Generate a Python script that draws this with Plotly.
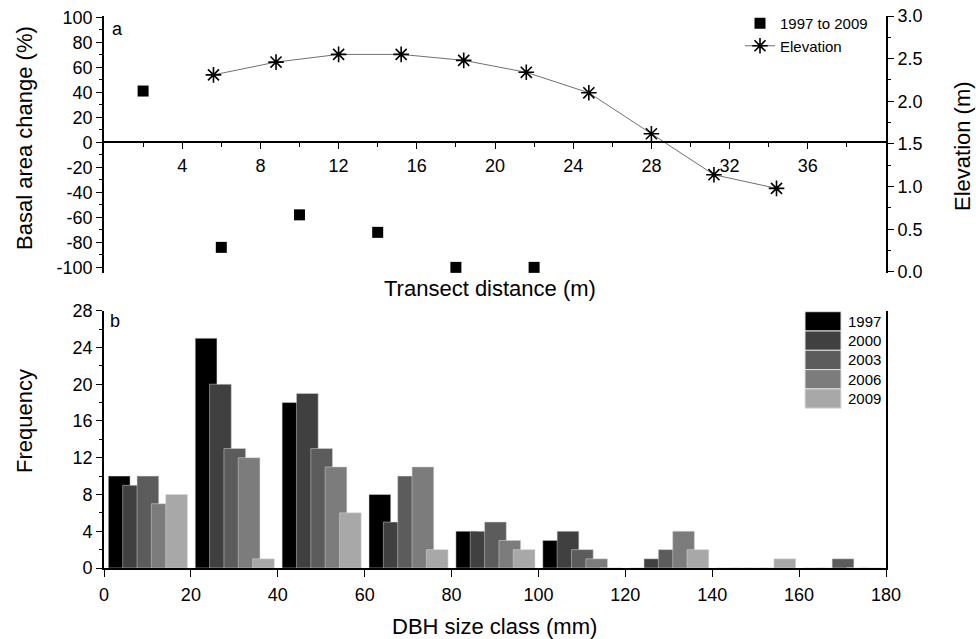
import plotly.graph_objects as go

# ---------------- data ----------------
# Panel a
square_x = [2, 6, 10, 14, 18, 22]
square_y = [41, -84, -58, -72, -100, -100]
square_name = "1997 to 2009"

elev_x = [5.6, 8.8, 12.0, 15.2, 18.4, 21.6, 24.8, 28.0, 31.2, 34.4]
elev_y = [2.31, 2.46, 2.55, 2.55, 2.48, 2.34, 2.10, 1.62, 1.14, 0.98]
elev_name = "Elevation"

basal_ticks = list(range(-100, 101, 20))
basal_ticktext = [str(v).replace("\u2212", "-") for v in basal_ticks]

# Panel b
class_start = [0, 20, 40, 60, 80, 100, 120, 140, 160]
years = ["1997", "2000", "2003", "2006", "2009"]
freq_1997 = [10, 25, 18, 8, 4, 3, 0, 0, 0]
freq_2000 = [9, 20, 19, 5, 4, 4, 1, 0, 0]
freq_2003 = [10, 13, 13, 10, 5, 2, 2, 0, 1]
freq_2006 = [7, 12, 11, 11, 3, 1, 4, 0, 0]
freq_2009 = [8, 1, 6, 2, 2, 0, 2, 1, 0]
freqs = [freq_1997, freq_2000, freq_2003, freq_2006, freq_2009]
bar_colors = ["#000000", "#404040", "#5c5c5c", "#7c7c7c", "#a8a8a8"]

# ---------------- layout geometry ----------------
W, H = 976, 639
ML, MR, MT, MB = 104, 90, 16, 71
PW, PH = W - ML - MR, H - MT - MB


def px(x):
    return (x - ML) / PW


def py(y):
    return (H - MB - y) / PH


top_dom = [py(273), 1.0]
bot_dom = [0.0, py(310.7)]
yl_range = [-104.5, 101]
yr_range = [-0.012, 3.0]
xaxis_pos = top_dom[0] + (0 - yl_range[0]) / (yl_range[1] - yl_range[0]) * (top_dom[1] - top_dom[0])

FONT = "Liberation Sans, Arial, sans-serif"

fig = go.Figure()

fig.add_trace(go.Scatter(
    x=square_x, y=square_y, mode="markers", name=square_name,
    marker=dict(symbol="square", size=11, color="black"),
    xaxis="x", yaxis="y"))

fig.add_trace(go.Scatter(
    x=elev_x, y=elev_y, mode="lines+markers", name=elev_name,
    line=dict(color="#707070", width=1),
    marker=dict(symbol="asterisk-open", size=13, color="black",
                line=dict(color="black", width=1.6)),
    xaxis="x", yaxis="y2"))

for k, (yr, vals, col) in enumerate(zip(years, freqs, bar_colors)):
    fig.add_trace(go.Bar(
        x=class_start, y=vals, name=yr, width=5, offset=1 + 3.3 * k,
        marker=dict(color=col, line=dict(color="#d8d8d8", width=0.5)),
        showlegend=False, xaxis="x2", yaxis="y3"))

axis_common = dict(showline=True, linecolor="black", linewidth=1.6,
                   ticks="outside", tickcolor="black", tickwidth=1.4,
                   showgrid=False, zeroline=False,
                   tickfont=dict(family=FONT, size=18, color="black"))

fig.update_layout(
    width=W, height=H,
    margin=dict(l=ML, r=MR, t=MT, b=MB, autoexpand=False),
    paper_bgcolor="white", plot_bgcolor="white",
    barmode="overlay",
    font=dict(family=FONT, color="black"),
    xaxis=dict(domain=[0, 1], range=[0, 40], anchor="free", position=xaxis_pos,
               tickvals=list(range(4, 37, 4)), ticklen=6, ticklabelstandoff=1,
               minor=dict(tickvals=list(range(2, 39, 4)), ticklen=4, ticks="outside",
                          tickcolor="black", tickwidth=1.4),
               **axis_common),
    yaxis=dict(domain=top_dom, range=yl_range, anchor="x",
               tickvals=basal_ticks, ticktext=basal_ticktext, ticklen=6,
               minor=dict(tickvals=list(range(-90, 100, 20)), ticklen=3, ticks="outside",
                          tickcolor="black", tickwidth=1.4),
               **axis_common),
    yaxis2=dict(domain=top_dom, range=yr_range, overlaying="y", side="right", anchor="x",
                tickvals=[0, 0.5, 1.0, 1.5, 2.0, 2.5, 3.0], tickformat=".1f", ticklen=6,
                minor=dict(tickvals=[0.25, 0.75, 1.25, 1.75, 2.25, 2.75], ticklen=3,
                           ticks="outside", tickcolor="black", tickwidth=1.4),
                **axis_common),
    xaxis2=dict(domain=[0, 1], range=[0, 180], anchor="y3", dtick=20, ticklen=7,
                ticklabelstandoff=3, **axis_common),
    yaxis3=dict(domain=bot_dom, range=[0, 28], anchor="x2", dtick=4, ticklen=6,
                mirror=True,
                minor=dict(dtick=2, ticklen=3, ticks="outside",
                           tickcolor="black", tickwidth=1.4),
                **axis_common),
    legend=dict(x=px(740), y=py(7), xanchor="left", yanchor="top",
                bgcolor="rgba(0,0,0,0)", borderwidth=0, tracegroupgap=0,
                font=dict(family=FONT, size=15, color="black")),
)

annotations = [
    dict(text="a", x=px(110), y=py(29), xanchor="left", yanchor="middle", font_size=18),
    dict(text="b", x=px(108), y=py(321), xanchor="left", yanchor="middle", font_size=18),
    dict(text="Basal area change (%)", x=px(24), y=py(138), textangle=-90, font_size=22),
    dict(text="Elevation (m)", x=px(962), y=py(146), textangle=-90, font_size=22),
    dict(text="Transect distance (m)", x=px(490), y=py(288), font_size=22),
    dict(text="Frequency", x=px(24), y=py(421), textangle=-90, font_size=22),
    dict(text="DBH size class (mm)", x=px(494), y=py(626), font_size=22),
]

# custom legend for panel b
row_h = 19.3
for i, (yr, col) in enumerate(zip(years, bar_colors)):
    y0 = 311.7 + i * row_h
    fig.add_shape(type="rect", xref="paper", yref="paper",
                  x0=px(805), x1=px(841), y0=py(y0 + row_h), y1=py(y0),
                  fillcolor=col, line=dict(color="#e0e0e0", width=1))
    annotations.append(dict(text=yr, x=px(846), y=py(y0 + row_h / 2),
                            xanchor="left", font_size=15))

for a in annotations:
    a.setdefault("xanchor", "center")
    a.setdefault("yanchor", "middle")
    fs = a.pop("font_size")
    a.update(xref="paper", yref="paper", showarrow=False,
             font=dict(family=FONT, size=fs, color="black"))
fig.update_layout(annotations=annotations)

fig.write_html("out.html")
